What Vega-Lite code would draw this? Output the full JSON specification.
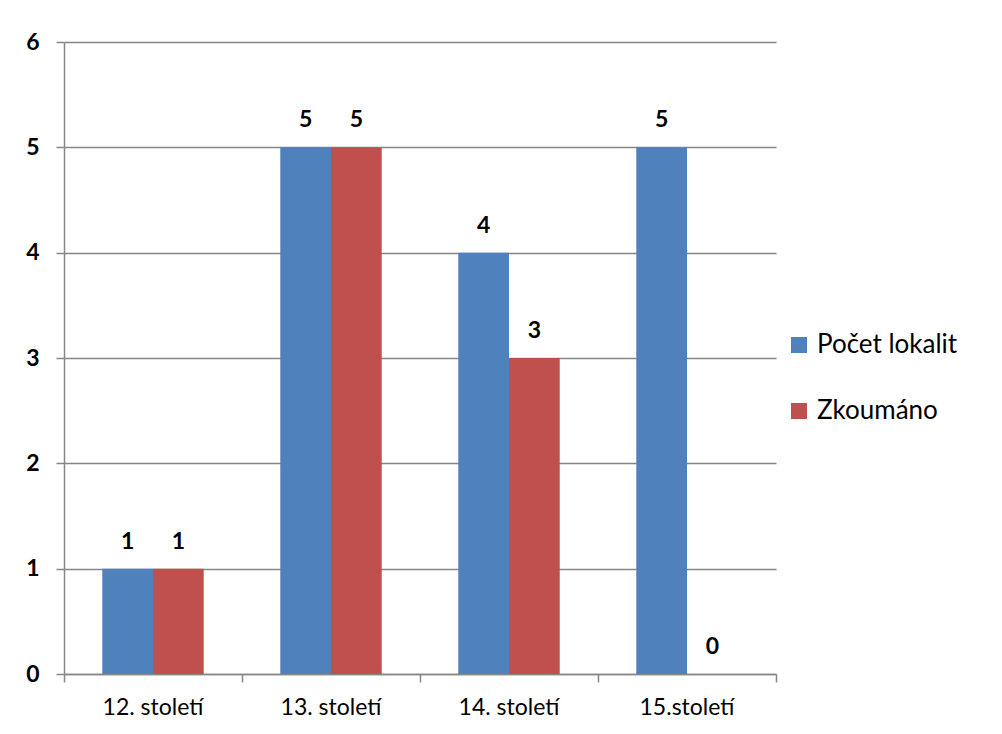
{
  "$schema": "https://vega.github.io/schema/vega-lite/v6.json",
  "width": 712,
  "height": 632,
  "autosize": {"type": "none"},
  "padding": {"left": 64, "top": 42, "right": 226, "bottom": 60},
  "background": "white",
  "config": {"view": {"stroke": null}, "font": "Lato"},
  "data": {"values": [
    {"stoleti": "12. století", "serie": "Počet lokalit", "pocet": 1},
    {"stoleti": "12. století", "serie": "Zkoumáno", "pocet": 1},
    {"stoleti": "13. století", "serie": "Počet lokalit", "pocet": 5},
    {"stoleti": "13. století", "serie": "Zkoumáno", "pocet": 5},
    {"stoleti": "14. století", "serie": "Počet lokalit", "pocet": 4},
    {"stoleti": "14. století", "serie": "Zkoumáno", "pocet": 3},
    {"stoleti": "15.století", "serie": "Počet lokalit", "pocet": 5},
    {"stoleti": "15.století", "serie": "Zkoumáno", "pocet": 0}
  ]},
  "resolve": {"scale": {"x": "independent"}, "axis": {"x": "independent"}},
  "layer": [
    {
      "mark": {"type": "bar", "opacity": 0},
      "encoding": {
        "x": {"field": "stoleti", "type": "nominal", "sort": null,
          "scale": {"paddingInner": 0, "paddingOuter": 0},
          "axis": {"orient": "bottom", "title": null, "labels": false, "domainColor": "#868686", "domainWidth": 1.5,
            "tickColor": "#868686", "tickWidth": 1.5, "tickSize": 8, "tickBand": "extent", "grid": false}},
        "y": {"field": "pocet", "type": "quantitative", "scale": {"domain": [0, 6], "nice": false},
          "axis": {"title": null, "values": [0, 1, 2, 3, 4, 5, 6], "format": "d", "labelFontSize": 23, "labelFontWeight": "bold", "labelColor": "#000000",
            "domainColor": "#868686", "domainWidth": 1.5, "tickColor": "#868686", "tickWidth": 1.5, "tickSize": 8,
            "gridColor": "#868686", "gridWidth": 1.5, "labelPadding": 17}}
      }
    },
    {
      "encoding": {
        "x": {"field": "stoleti", "type": "nominal", "sort": null,
          "scale": {"paddingInner": 0.43, "paddingOuter": 0.215},
          "axis": {"orient": "bottom", "title": null, "labelAngle": 0, "labelFontSize": 23, "labelColor": "#000000",
            "domain": false, "ticks": false, "labelPadding": 22, "grid": false}},
        "xOffset": {"field": "serie", "type": "nominal", "scale": {"domain": ["Počet lokalit", "Zkoumáno"], "paddingInner": 0, "paddingOuter": 0}},
        "y": {"field": "pocet", "type": "quantitative", "scale": {"domain": [0, 6], "nice": false}}
      },
      "layer": [
        {
          "mark": {"type": "bar"},
          "encoding": {
            "color": {"field": "serie", "type": "nominal",
              "scale": {"domain": ["Počet lokalit", "Zkoumáno"], "range": ["#4F81BD", "#C0504D"]},
              "legend": {"title": null, "orient": "none", "legendX": 722, "legendY": 290, "labelFontSize": 26, "labelColor": "#000000",
                "symbolType": "square", "symbolSize": 256, "symbolStrokeWidth": 0, "rowPadding": 40, "labelOffset": 5}}
          }
        },
        {
          "mark": {"type": "text", "baseline": "alphabetic", "dy": -20, "fontSize": 23, "fontWeight": "bold", "color": "#000000"},
          "encoding": {"text": {"field": "pocet", "type": "quantitative"}}
        }
      ]
    }
  ]
}
